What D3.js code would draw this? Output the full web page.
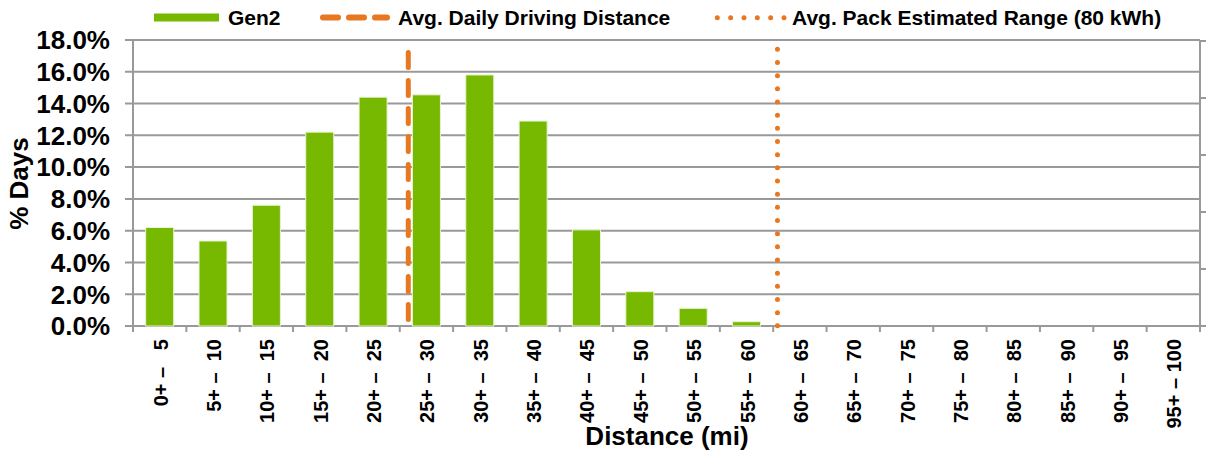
<!DOCTYPE html>
<html><head><meta charset="utf-8">
<script src="https://cdn.jsdelivr.net/npm/d3@7"></script>
<style>body{margin:0;background:#fff}svg{display:block;font-family:Arial,"Liberation Sans",sans-serif}</style>
</head><body><svg id="c" width="1206" height="455"></svg>
<script>
const binLow  = [0,5,10,15,20,25,30,35,40,45,50,55,60,65,70,75,80,85,90,95];
const binHigh = [5,10,15,20,25,30,35,40,45,50,55,60,65,70,75,80,85,90,95,100];
const categories = binLow.map((lo,i)=>{
  const hi = String(binHigh[i]);
  const pad = hi.length===1 ? "   " : hi.length===2 ? "  " : " ";
  return lo + "+ \u2013" + pad + hi;
});
const gen2 = [6.2,5.35,7.6,12.2,14.4,14.55,15.8,12.9,6.05,2.16,1.11,0.27,0,0,0,0,0,0,0,0];
const yTicks = [0,2,4,6,8,10,12,14,16,18];
const avgDailyDistance = 25.8;
const avgPackRange = 60.4;
const rightTicks = [0,1,2,3,4,5];

const svg = d3.select("#c");
const L=133, R=1200, T=40, B=326;
const x = d3.scaleBand().domain(categories).range([L,R]).paddingInner(0.475).paddingOuter(0.2375);
const xb = d3.scaleBand().domain(categories).range([L,R]);
const xm = d3.scaleLinear().domain([0,100]).range([L,R]);
const y = d3.scaleLinear().domain([0,18]).range([B,T]);
const y2 = d3.scaleLinear().domain([0,5]).range([B,T+1]);
const grid="#999";
const orange="#e87722";

// gridlines
svg.append("g").selectAll("line").data(yTicks).join("line")
  .attr("x1",L-8).attr("x2",R).attr("y1",d=>y(d)).attr("y2",d=>y(d))
  .attr("stroke",grid).attr("stroke-width",2);
// y labels
svg.append("g").selectAll("text").data(yTicks).join("text")
  .attr("x",110).attr("y",d=>y(d)).attr("dy","0.36em").attr("text-anchor","end")
  .attr("font-size",26).attr("font-weight","bold").text(d=>d.toFixed(1)+"%");
// bars
svg.append("g").selectAll("rect").data(gen2).join("rect")
  .attr("x",(d,i)=>x(categories[i])).attr("width",x.bandwidth())
  .attr("y",d=>y(d)).attr("height",d=>B-y(d))
  .attr("fill","#77b800").attr("stroke","#e8f3d2").attr("stroke-width",1);
// axes lines
svg.append("line").attr("x1",L).attr("x2",L).attr("y1",T).attr("y2",B+6).attr("stroke",grid).attr("stroke-width",2);
svg.append("line").attr("x1",R).attr("x2",R).attr("y1",T).attr("y2",B+6).attr("stroke",grid).attr("stroke-width",2);
// x ticks
svg.append("g").selectAll("line").data(categories.slice(1)).join("line")
  .attr("x1",d=>xb(d)).attr("x2",d=>xb(d)).attr("y1",B).attr("y2",B+6)
  .attr("stroke",grid).attr("stroke-width",2);
// right ticks
svg.append("g").selectAll("line").data(rightTicks).join("line")
  .attr("x1",R).attr("x2",R+6).attr("y1",d=>y2(d)).attr("y2",d=>y2(d))
  .attr("stroke",grid).attr("stroke-width",2);
// x labels
svg.append("g").selectAll("text").data(categories).join("text")
  .attr("transform",d=>`translate(${xb(d)+xb.bandwidth()/2+8},339) rotate(-90)`)
  .attr("text-anchor","end").attr("font-size",20).attr("font-weight","bold")
  .attr("xml:space","preserve").style("white-space","pre").text(d=>d);
// vertical reference lines
svg.append("line").attr("x1",xm(avgDailyDistance)).attr("x2",xm(avgDailyDistance)).attr("y1",T).attr("y2",B+2)
  .attr("stroke",orange).attr("stroke-width",5).attr("stroke-linecap","round")
  .attr("stroke-dasharray","15 13").attr("stroke-dashoffset",15.5);
svg.append("line").attr("x1",xm(avgPackRange)).attr("x2",xm(avgPackRange)).attr("y1",49.3).attr("y2",326)
  .attr("stroke",orange).attr("stroke-width",5).attr("stroke-linecap","round").attr("stroke-dasharray","0 13.17");
// axis titles
svg.append("text").attr("transform","translate(28,183.5) rotate(-90)").attr("text-anchor","middle")
  .attr("font-size",26).attr("font-weight","bold").text("% Days");
svg.append("text").attr("x",667).attr("y",445).attr("text-anchor","middle")
  .attr("font-size",26).attr("font-weight","bold").text("Distance (mi)");
// legend
const lg = svg.append("g");
lg.append("rect").attr("x",154).attr("y",13.5).attr("width",65).attr("height",8).attr("fill","#77b800");
lg.append("text").attr("x",228).attr("y",25).attr("font-size",21).attr("font-weight","bold").text("Gen2");
lg.append("line").attr("x1",323).attr("x2",387).attr("y1",17.5).attr("y2",17.5).attr("stroke",orange)
  .attr("stroke-width",6).attr("stroke-linecap","round").attr("stroke-dasharray","15 11");
lg.append("text").attr("x",398).attr("y",25).attr("font-size",21).attr("font-weight","bold").text("Avg. Daily Driving Distance");
lg.append("line").attr("x1",717.3).attr("x2",784).attr("y1",17.7).attr("y2",17.7).attr("stroke",orange)
  .attr("stroke-width",5).attr("stroke-linecap","round").attr("stroke-dasharray","0 13.34");
lg.append("text").attr("x",792).attr("y",25).attr("font-size",21).attr("font-weight","bold").text("Avg. Pack Estimated Range (80 kWh)");
</script></body></html>
